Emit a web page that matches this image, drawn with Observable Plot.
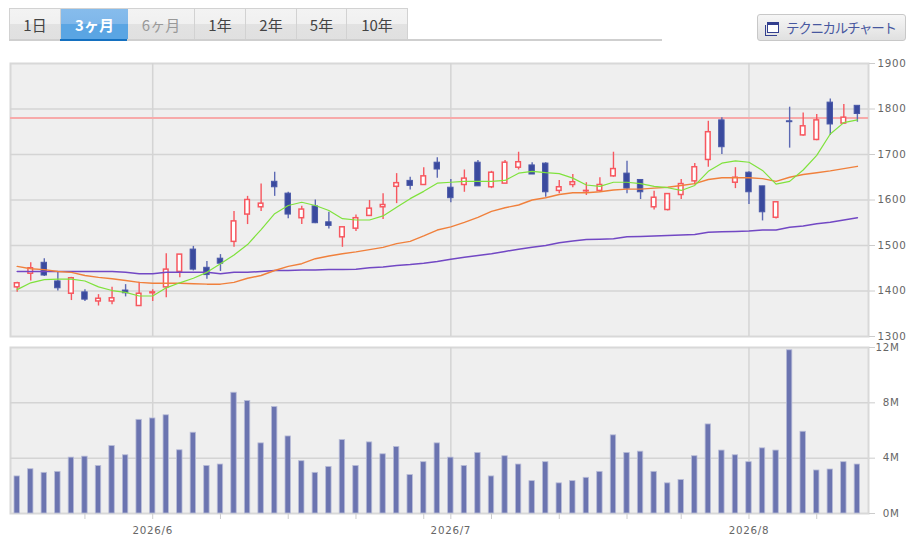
<!DOCTYPE html>
<html lang="ja">
<head>
<meta charset="utf-8">
<script src="https://cdn.jsdelivr.net/npm/d3@7"></script>
<script src="https://cdn.jsdelivr.net/npm/@observablehq/plot@0.6"></script>
<style>
  html, body { margin: 0; padding: 0; background: #fff; width: 919px; height: 535px; overflow: hidden; }
  #page { position: relative; width: 919px; height: 535px; font-family: "Noto Sans CJK JP", "Noto Sans", sans-serif; }
  #tabs { position: absolute; left: 9px; top: 8px; height: 31px; display: flex; border: 1px solid #d2d2d2; border-bottom: none; }
  #tabs .tab { box-sizing: border-box; height: 31px; line-height: 31px; text-align: center; font-size: 15px; color: #444;
    border-right: 1px solid #d2d2d2; background: linear-gradient(#f3f3f3 0, #f0f0f0 48%, #e2e2e2 50%, #e0e0e0 100%); }
  #tabs .tab:last-child { border-right: none; }
  #tabs .on { color: #fff; font-weight: 700; background: linear-gradient(#86bcec 0, #7fb7ea 48%, #5aa5e3 50%, #5aa5e3 100%); border-right: none; }
  #tabs .off { color: #999; }
  #tabline { position: absolute; left: 9px; top: 39px; width: 653px; height: 2px; background: #cfcfcf; }
  #tabon { position: absolute; left: 60px; top: 39px; width: 67px; height: 2px; background: #1470c0; }
  #btn { position: absolute; left: 757px; top: 14px; width: 149px; height: 27px; box-sizing: border-box; border: 1px solid #c8c8c8; border-radius: 3px;
    background: linear-gradient(#f6f6f6, #e0e0e0); color: #47579f; font-size: 13.5px; line-height: 25px; letter-spacing: -1.3px; padding-left: 28px; white-space: nowrap; }
  #ico { position: absolute; left: 9px; top: 7px; width: 12px; height: 11px; box-sizing: border-box; border: 1px solid #333f8f; border-top-width: 3px; background: #fff; }
  #ico2 { position: absolute; left: 7px; top: 10px; width: 12px; height: 11px; box-sizing: border-box; border-left: 1px solid #333f8f; border-bottom: 1px solid #333f8f; }
  .chart { position: absolute; left: 0; }
  #price { top: 55px; }
  #volume { top: 340px; }
</style>
</head>
<body>
<div id="page">
  <div id="tabs"></div>
  <div id="tabline"></div>
  <div id="tabon"></div>
  <div id="btn"><span id="ico2"></span><span id="ico"></span>テクニカルチャート</div>
  <div id="price" class="chart"></div>
  <div id="volume" class="chart"></div>
</div>
<script>
const tabLabels = ["1日", "3ヶ月", "6ヶ月", "1年", "2年", "5年", "10年"];
const tabWidths = [51, 67, 67, 51, 51, 50, 60];

const priceTicks = [1300, 1400, 1500, 1600, 1700, 1800, 1900];
const volumeTicks = [0, 4, 8, 12];
const monthIndex = [10, 32, 54];
const monthLabels = ["2026/6", "2026/7", "2026/8"];
const minorIndex = [5, 15, 20, 25, 30, 35, 40, 45, 49, 59];
const referencePrice = 1780;

const openVals = [1408,1438,1462,1421,1394,1397,1377,1377,1401,1367,1395,1408,1442,1491,1451,1471,1508,1568,1584,1640,1614,1560,1586,1551,1518,1537,1565,1584,1629,1642,1633,1682,1627,1633,1682,1628,1636,1671,1676,1680,1620,1633,1619,1620,1652,1658,1644,1584,1578,1611,1641,1688,1775,1638,1660,1630,1561,1773,1742,1732,1814,1768,1807];
const closeVals = [1417,1450,1434,1406,1428,1381,1383,1384,1395,1394,1397,1447,1480,1447,1435,1460,1553,1600,1592,1628,1568,1579,1549,1543,1540,1560,1581,1589,1637,1631,1652,1667,1604,1647,1630,1660,1682,1683,1656,1617,1628,1639,1620,1633,1668,1625,1617,1605,1613,1635,1672,1749,1716,1649,1617,1573,1595,1771,1762,1775,1766,1781,1789];
const highVals = [1419,1462,1471,1443,1430,1403,1392,1408,1414,1419,1403,1482,1480,1498,1465,1480,1575,1608,1635,1661,1617,1586,1600,1573,1540,1567,1599,1614,1658,1650,1671,1693,1645,1666,1687,1663,1687,1705,1682,1682,1643,1656,1638,1649,1705,1685,1645,1619,1613,1645,1680,1773,1781,1671,1662,1630,1595,1804,1791,1788,1822,1810,1807];
const lowVals = [1397,1422,1432,1400,1379,1377,1367,1370,1387,1367,1377,1385,1429,1444,1426,1443,1496,1546,1575,1608,1559,1546,1548,1536,1496,1531,1564,1557,1592,1622,1633,1648,1594,1617,1630,1625,1636,1666,1656,1606,1614,1627,1610,1617,1650,1614,1601,1578,1576,1601,1633,1672,1700,1625,1590,1554,1558,1714,1740,1730,1742,1766,1771];

const maShort = [1403,1418,1425,1426,1426,1422,1409,1401,1397,1389,1389,1407,1418,1428,1441,1460,1479,1502,1535,1570,1588,1595,1588,1577,1559,1556,1556,1565,1584,1603,1619,1637,1639,1641,1641,1641,1643,1659,1663,1660,1658,1648,1633,1630,1639,1639,1636,1630,1627,1621,1632,1663,1681,1686,1683,1665,1635,1641,1666,1698,1745,1770,1776];
const maMiddle = [1454,1449,1447,1443,1441,1434,1430,1427,1423,1419,1417,1417,1417,1416,1415,1415,1419,1428,1434,1445,1454,1460,1471,1477,1482,1486,1491,1496,1504,1509,1521,1534,1541,1551,1562,1575,1583,1589,1600,1605,1612,1616,1616,1618,1622,1624,1624,1626,1628,1632,1636,1645,1649,1649,1649,1647,1641,1650,1656,1660,1664,1669,1674];
const maLong = [1443,1443,1443,1443,1443,1443,1443,1443,1441,1438,1438,1441,1441,1441,1441,1438,1441,1441,1443,1445,1445,1446,1446,1447,1447,1448,1451,1453,1456,1458,1461,1465,1470,1474,1478,1482,1487,1492,1496,1500,1506,1510,1513,1514,1515,1519,1520,1521,1522,1523,1524,1529,1530,1531,1532,1534,1534,1540,1543,1548,1551,1556,1561];

const volumeM = [2.68,3.2,2.94,3.01,4.04,4.11,3.44,4.88,4.21,6.77,6.87,7.1,4.57,5.84,3.44,3.54,8.73,8.13,5.07,7.7,5.57,3.78,2.94,3.37,5.31,3.44,5.14,4.28,4.81,2.78,3.71,5.07,4.04,3.44,4.38,2.68,4.14,3.54,2.34,3.71,2.18,2.34,2.58,3.01,5.65,4.38,4.47,3.01,2.18,2.42,4.14,6.44,4.55,4.21,3.71,4.71,4.55,11.8,5.91,3.11,3.18,3.71,3.54];

const tabs = document.getElementById("tabs");
tabLabels.forEach((t, i) => {
  const d = document.createElement("div");
  d.className = "tab" + (i === 1 ? " on" : i === 2 ? " off" : "");
  d.style.width = tabWidths[i] + "px";
  d.textContent = t;
  tabs.appendChild(d);
});

const candles = openVals.map((o, i) => ({
  i, open: o, close: closeVals[i], high: highVals[i], low: lowVals[i], volume: volumeM[i],
  short: maShort[i], middle: maMiddle[i], long: maLong[i],
  up: closeVals[i] >= o
}));
const ups = candles.filter(d => d.up);
const downs = candles.filter(d => !d.up);

const xDomain = [-0.494, 62.82];
const textColor = "#666";
const frameColor = "#d8d8d8";
const gridColor = "#d4d4d4";
const baseStyle = { background: "transparent", fontFamily: "'DejaVu Sans', sans-serif", fontSize: "10.3px", letterSpacing: "0.7px", overflow: "visible" };

const pricePlot = Plot.plot({
  width: 919, height: 285,
  marginLeft: 10, marginRight: 51, marginTop: 8, marginBottom: 4,
  style: baseStyle,
  x: { type: "linear", domain: xDomain, axis: null },
  y: { domain: [1300, 1900], axis: null },
  marks: [
    Plot.frame({ fill: "#efefef", stroke: frameColor, strokeWidth: 2 }),
    Plot.ruleY(priceTicks.slice(1, -1), { stroke: gridColor, strokeWidth: 1.5 }),
    Plot.ruleX(monthIndex, { stroke: gridColor, strokeWidth: 1.5 }),
    Plot.ruleY([referencePrice], { stroke: "#f7aaaa", strokeWidth: 2 }),
    Plot.axisY(priceTicks, { anchor: "right", label: null, tickSize: 6, tickPadding: 3, stroke: "#ccc", fill: textColor, tickFormat: d => String(d) }),
    Plot.ruleX(candles, { x: "i", y1: "low", y2: "high", stroke: d => d.up ? "#f7575f" : "#5c69b3", strokeWidth: 1.4 }),
    Plot.rect(ups, { x1: d => d.i - 0.17, x2: d => d.i + 0.17, y1: "open", y2: "close", fill: "#fff", stroke: "#f7575f", strokeWidth: 1.5 }),
    Plot.rect(downs, { x1: d => d.i - 0.2, x2: d => d.i + 0.2, y1: "open", y2: "close", fill: "#3a4a9e", stroke: "#4a59a8", strokeWidth: 1 }),
    Plot.line(candles, { x: "i", y: "long", stroke: "#7248c4", strokeWidth: 1.5 }),
    Plot.line(candles, { x: "i", y: "middle", stroke: "#f0803c", strokeWidth: 1.4 }),
    Plot.line(candles, { x: "i", y: "short", stroke: "#7fe23c", strokeWidth: 1.2 })
  ]
});
document.getElementById("price").appendChild(pricePlot);

const volumePlot = Plot.plot({
  width: 919, height: 195,
  marginLeft: 10, marginRight: 51, marginTop: 7, marginBottom: 22,
  style: baseStyle,
  x: { type: "linear", domain: xDomain, axis: null },
  y: { domain: [0, 12], axis: null },
  marks: [
    Plot.frame({ fill: "#efefef", stroke: frameColor, strokeWidth: 2 }),
    Plot.ruleY(volumeTicks.slice(1, -1), { stroke: gridColor, strokeWidth: 1.5 }),
    Plot.ruleX(monthIndex, { stroke: gridColor, strokeWidth: 1.5 }),
    Plot.rect(candles, { x1: d => d.i - 0.2, x2: d => d.i + 0.2, y1: 0, y2: "volume", fill: "#6b74b0", stroke: "#b9bdd8", strokeWidth: 0.8 }),
    Plot.axisY(volumeTicks, { anchor: "right", label: null, tickSize: 6, tickPadding: 25, textAnchor: "end", stroke: "#ccc", fill: textColor, tickFormat: d => d + "M" }),
    Plot.axisX(minorIndex, { anchor: "bottom", label: null, tickSize: 6, tickFormat: () => "", stroke: "#ccc" }),
    Plot.axisX(monthIndex, { anchor: "bottom", label: null, tickSize: 6, tickPadding: 7, stroke: "#ccc", fill: textColor, tickFormat: d => monthLabels[monthIndex.indexOf(d)] })
  ]
});
document.getElementById("volume").appendChild(volumePlot);
</script>
</body>
</html>
